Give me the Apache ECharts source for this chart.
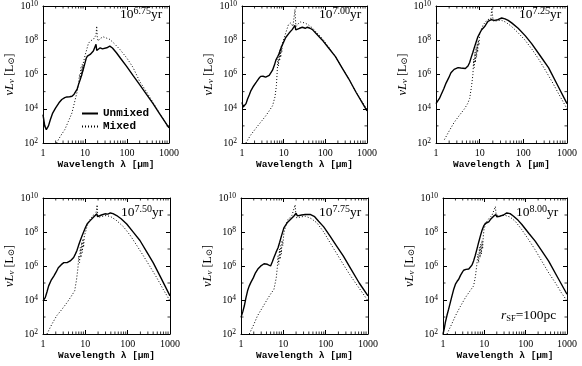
<!DOCTYPE html>
<html>
<head>
<meta charset="utf-8">
<script src="https://cdn.jsdelivr.net/npm/echarts@6/dist/echarts.min.js"></script>
<style>
  html, body { margin: 0; padding: 0; background: #fff; }
  #main { width: 582px; height: 366px; }
</style>
</head>
<body>
<div id="main"></div>
<script>
// ages of the six panels (log yr)
var ages = ['6.75', '7.00', '7.25', '7.50', '7.75', '8.00'];

// wavelength (um) and log10(nu L_nu / Lsun)
var unmixed675Lambda = [1, 1.1, 1.2, 1.35, 1.5, 1.7, 2.0, 2.4, 2.8, 3.3, 3.7, 4.3, 4.9, 5.5, 6.0, 6.5, 7.0, 7.7, 8.4, 9.2, 10, 10.7, 11.4, 12.2, 13.3, 14.5, 15.8, 17, 18.3, 19, 19.7, 21, 23, 26, 29, 33, 36, 39, 45, 56, 70, 97, 140, 200, 300, 417, 600, 1000];
var unmixed675LogL = [3.66, 3.0, 2.78, 3.0, 3.37, 3.75, 4.05, 4.35, 4.54, 4.65, 4.69, 4.7, 4.73, 4.85, 4.93, 5.15, 5.41, 5.7, 6.0, 6.35, 6.68, 6.95, 7.07, 6.98, 7.17, 7.25, 7.37, 7.3, 7.76, 7.4, 7.37, 7.5, 7.56, 7.5, 7.6, 7.56, 7.62, 7.66, 7.55, 7.27, 6.95, 6.49, 5.93, 5.41, 4.8, 4.3, 3.7, 2.88];
var mixed675Lambda = [2.1, 2.6, 3.3, 4.0, 4.9, 5.6, 6.4, 7.0, 7.4, 7.7, 8.0, 8.3, 8.6, 8.9, 9.2, 9.6, 10, 11, 12, 13.2, 14.5, 15.8, 17, 18.3, 19, 19.6, 20.5, 23, 27, 33, 39, 50, 68, 100, 140, 200, 290, 420, 600, 1000];
var mixed675LogL = [2.0, 2.4, 2.78, 3.25, 3.76, 4.35, 4.93, 5.4, 6.0, 5.7, 6.4, 5.9, 6.6, 6.2, 6.75, 6.9, 7.1, 7.46, 7.8, 7.95, 8.02, 8.05, 8.02, 8.3, 8.83, 8.2, 7.95, 8.1, 8.2, 8.12, 8.05, 7.8, 7.46, 6.95, 6.4, 5.6, 5.0, 4.35, 3.72, 2.88];

var unmixed700Lambda = [1, 1.07, 1.14, 1.25, 1.36, 1.5, 1.64, 1.9, 2.2, 2.5, 2.8, 3.2, 3.7, 4.5, 5.4, 6.0, 6.5, 7.2, 7.8, 8.5, 9.3, 10.2, 11.2, 12.3, 13.5, 14.7, 16, 17.5, 18.7, 19.5, 21, 24, 28, 33, 37, 43, 49, 60, 84, 120, 175, 250, 364, 550, 1000];
var unmixed700LogL = [4.37, 4.1, 4.07, 4.3, 4.57, 4.82, 5.06, 5.33, 5.55, 5.75, 5.89, 5.9, 5.85, 5.95, 6.25, 6.55, 6.84, 7.05, 7.23, 7.5, 7.73, 7.95, 8.16, 8.1, 8.42, 8.5, 8.62, 8.55, 8.87, 8.6, 8.56, 8.7, 8.76, 8.7, 8.76, 8.7, 8.62, 8.4, 8.02, 7.55, 7.04, 6.4, 5.75, 4.95, 3.87];
var mixed700Lambda = [1.24, 1.6, 2.2, 3.0, 3.7, 4.5, 5.4, 6.2, 6.7, 7.0, 7.3, 7.5, 7.8, 8.0, 8.3, 8.5, 8.8, 9.0, 9.3, 10, 11.2, 12.2, 13, 14.7, 16.7, 18, 18.7, 19.4, 20, 22, 25.6, 33, 40, 49, 60, 84, 120, 175, 250, 364, 550, 1000];
var mixed700LogL = [2.0, 2.45, 2.89, 3.3, 3.58, 3.88, 4.17, 4.7, 5.36, 6.2, 6.9, 6.5, 7.3, 6.8, 7.5, 7.0, 7.7, 7.3, 7.8, 7.9, 8.42, 8.7, 8.91, 9.01, 8.81, 8.9, 9.8, 9.0, 8.81, 8.95, 9.07, 9.0, 8.88, 8.72, 8.48, 8.12, 7.6, 7.04, 6.4, 5.75, 4.95, 3.97];

var unmixed725Lambda = [1, 1.09, 1.2, 1.3, 1.5, 1.7, 1.95, 2.2, 2.6, 3.2, 3.7, 4.1, 4.7, 5.4, 5.9, 6.4, 7.0, 7.6, 8.3, 9.1, 10, 11, 12, 13, 14.2, 15.5, 17, 18.5, 20, 22, 26, 32, 38, 45, 55, 76, 110, 155, 250, 377, 600, 1000];
var unmixed725LogL = [4.3, 4.4, 4.6, 4.8, 5.15, 5.5, 5.8, 6.1, 6.3, 6.4, 6.38, 6.3, 6.35, 6.5, 6.7, 7.0, 7.3, 7.6, 7.9, 8.2, 8.4, 8.6, 8.5, 8.8, 8.95, 9.1, 9.05, 9.2, 9.1, 9.16, 9.2, 9.3, 9.25, 9.16, 9.0, 8.7, 8.27, 7.8, 7.05, 6.4, 5.4, 4.3];
var mixed725Lambda = [1.56, 2.0, 2.6, 3.4, 4.5, 5.3, 5.9, 6.5, 7.0, 7.3, 7.5, 7.8, 8.0, 8.3, 8.5, 8.8, 9.0, 9.3, 9.6, 10, 11, 12, 13.5, 15, 16.5, 18, 19, 20, 21, 22, 26, 32, 40, 54, 75, 110, 160, 224, 320, 450, 650, 1000];
var mixed725LogL = [2.2, 2.7, 3.2, 3.6, 4.0, 4.3, 4.6, 5.3, 6.0, 6.9, 6.4, 7.3, 6.7, 7.6, 7.0, 7.8, 7.3, 8.0, 7.7, 8.4, 8.65, 8.9, 9.05, 9.2, 9.1, 9.25, 9.9, 9.3, 9.1, 9.1, 9.15, 9.16, 9.05, 8.8, 8.45, 8.0, 7.45, 6.9, 6.25, 5.6, 4.85, 4.0];

var unmixed750Lambda = [1, 1.07, 1.13, 1.25, 1.36, 1.55, 1.8, 2.05, 2.3, 2.7, 3.1, 3.7, 4.4, 5.3, 5.8, 6.3, 6.9, 7.6, 8.3, 9.1, 10, 11, 12, 13, 14, 15.5, 17, 18.7, 19.5, 21, 24, 29, 34, 39, 45, 55, 70, 95, 140, 195, 280, 400, 620, 1000];
var unmixed750LogL = [3.95, 4.0, 4.14, 4.5, 4.83, 5.15, 5.41, 5.65, 5.9, 6.08, 6.2, 6.2, 6.3, 6.5, 6.7, 6.9, 7.2, 7.5, 7.75, 8.0, 8.25, 8.47, 8.4, 8.67, 8.6, 8.87, 8.8, 9.07, 8.9, 8.97, 9.0, 9.07, 9.05, 9.12, 9.08, 8.97, 8.78, 8.47, 7.95, 7.5, 6.84, 6.2, 5.27, 4.24];
var mixed750Lambda = [1.24, 1.6, 2.1, 2.8, 3.7, 4.6, 5.6, 6.2, 6.7, 7.0, 7.3, 7.6, 7.9, 8.2, 8.5, 8.8, 9.1, 9.5, 10, 11, 12, 13.5, 15.5, 17.5, 19, 19.6, 21, 25, 31, 40, 55, 80, 115, 160, 235, 340, 490, 700, 1000];
var mixed750LogL = [2.0, 2.55, 3.07, 3.45, 3.85, 4.2, 4.54, 5.2, 5.9, 6.6, 6.2, 7.1, 6.5, 7.4, 6.8, 7.6, 7.1, 7.8, 7.95, 8.35, 8.63, 8.8, 9.0, 8.95, 9.6, 9.0, 8.87, 8.92, 8.97, 8.9, 8.67, 8.3, 7.8, 7.25, 6.6, 5.95, 5.3, 4.6, 3.95];

var unmixed775Lambda = [1, 1.1, 1.2, 1.3, 1.43, 1.55, 1.7, 1.95, 2.2, 2.5, 2.9, 3.2, 3.5, 3.9, 4.2, 4.6, 5.0, 5.5, 6.0, 6.7, 7.5, 8.2, 9, 10.3, 11.2, 12.3, 13.5, 14.7, 16, 17.6, 19, 20, 21.5, 23, 27, 33, 43, 55, 68, 90, 127, 180, 260, 400, 620, 1000];
var unmixed775LogL = [2.98, 3.3, 3.66, 4.1, 4.54, 4.8, 5.02, 5.3, 5.6, 5.82, 5.99, 6.1, 6.13, 6.15, 6.1, 6.05, 6.0, 6.25, 6.5, 6.8, 7.07, 7.4, 7.76, 8.24, 8.3, 8.54, 8.5, 8.73, 8.7, 8.93, 8.85, 9.1, 8.95, 8.93, 9.0, 9.03, 9.03, 8.9, 8.63, 8.3, 7.76, 7.19, 6.59, 5.8, 5.0, 4.24];
var mixed775Lambda = [1.57, 2.0, 2.45, 3.2, 4.2, 5.0, 6.0, 6.8, 7.2, 7.5, 7.8, 8.1, 8.4, 8.7, 9.0, 9.3, 9.7, 10.3, 11.5, 12.8, 14.5, 16, 17.5, 19, 19.8, 20.8, 25, 33, 45, 62, 90, 127, 180, 260, 370, 530, 750, 1000];
var mixed775LogL = [2.0, 2.55, 3.07, 3.55, 4.05, 4.35, 4.63, 5.3, 5.9, 6.6, 6.1, 7.0, 6.4, 7.2, 6.7, 7.5, 7.2, 7.95, 8.4, 8.73, 8.85, 8.98, 8.9, 9.6, 9.0, 8.83, 8.88, 8.93, 8.8, 8.54, 8.0, 7.37, 6.75, 6.1, 5.5, 4.93, 4.4, 3.95];

var unmixed800Lambda = [1, 1.07, 1.14, 1.25, 1.37, 1.5, 1.65, 1.8, 2.0, 2.2, 2.4, 2.65, 2.9, 3.15, 3.35, 3.6, 3.8, 4.2, 4.6, 5.0, 5.5, 6.0, 6.6, 7.3, 8, 8.8, 9.6, 10.5, 11.6, 12.8, 14, 15.4, 16.8, 18, 19, 20, 22, 24, 29, 35, 42, 51, 65, 81, 120, 170, 250, 360, 600, 1000];
var unmixed800LogL = [2.0, 2.3, 2.68, 3.1, 3.46, 3.85, 4.24, 4.6, 4.93, 5.1, 5.22, 5.45, 5.61, 5.75, 5.85, 5.8, 5.76, 5.82, 5.9, 6.05, 6.3, 6.6, 6.98, 7.4, 7.76, 8.1, 8.34, 8.5, 8.54, 8.6, 8.73, 8.8, 8.93, 8.88, 9.02, 8.9, 8.97, 8.93, 9.0, 9.12, 9.08, 8.93, 8.7, 8.44, 7.91, 7.46, 6.86, 6.29, 5.31, 4.34];
var mixed800Lambda = [1.25, 1.6, 2.0, 2.6, 3.5, 4.4, 5.5, 6.1, 6.6, 7.0, 7.3, 7.6, 7.9, 8.2, 8.5, 8.8, 9.1, 9.4, 9.8, 10.5, 11.6, 13, 15.3, 17, 18.5, 19.3, 20, 24, 32, 42, 56, 80, 117, 170, 245, 360, 520, 720, 1000];
var mixed800LogL = [2.0, 2.55, 3.07, 3.6, 4.15, 4.5, 4.83, 5.4, 6.1, 6.7, 6.2, 7.1, 6.5, 7.3, 6.7, 7.5, 7.0, 7.7, 8.15, 8.4, 8.63, 8.8, 8.98, 8.9, 9.5, 9.0, 8.93, 8.95, 8.98, 8.88, 8.63, 8.15, 7.56, 6.95, 6.29, 5.6, 5.02, 4.45, 3.95];

// small ticks between the decades
var xMinorTicks = [2, 3, 4, 5, 6, 7, 8, 9, 20, 30, 40, 50, 60, 70, 80, 90, 200, 300, 400, 500, 600, 700, 800, 900];
var yMinorTicks = [1e3, 1e5, 1e7, 1e9];

var panels = [
  { age: ages[0], ul: unmixed675Lambda, uv: unmixed675LogL, ml: mixed675Lambda, mv: mixed675LogL },
  { age: ages[1], ul: unmixed700Lambda, uv: unmixed700LogL, ml: mixed700Lambda, mv: mixed700LogL },
  { age: ages[2], ul: unmixed725Lambda, uv: unmixed725LogL, ml: mixed725Lambda, mv: mixed725LogL },
  { age: ages[3], ul: unmixed750Lambda, uv: unmixed750LogL, ml: mixed750Lambda, mv: mixed750LogL },
  { age: ages[4], ul: unmixed775Lambda, uv: unmixed775LogL, ml: mixed775Lambda, mv: mixed775LogL },
  { age: ages[5], ul: unmixed800Lambda, uv: unmixed800LogL, ml: mixed800Lambda, mv: mixed800LogL }
];

var boxes = [
  { left: 43, top: 6, width: 126, height: 137 },
  { left: 242, top: 6, width: 125, height: 137 },
  { left: 436, top: 6, width: 131, height: 137 },
  { left: 43, top: 198, width: 127, height: 136 },
  { left: 241, top: 198, width: 127, height: 136 },
  { left: 443, top: 198, width: 124, height: 136 }
];
var ageLabelPos = [[120, 6], [319, 6], [519, 6], [121, 204], [319, 204], [516, 204]];

var serif = 'Liberation Serif';
var mono = 'Liberation Mono';

function pairs(lambda, logL) {
  return lambda.map(function (x, k) { return [x, Math.pow(10, logL[k])]; });
}

function yLabel(v) {
  var e = Math.round(Math.log10(v));
  return '10{sup|' + e + '}';
}

var grid = [], xAxis = [], yAxis = [], series = [], title = [];

panels.forEach(function (p, i) {
  var b = boxes[i];
  grid.push({ left: b.left, top: b.top, width: b.width, height: b.height, containLabel: false });

  var xBase = {
    type: 'log', logBase: 10, min: 1, max: 1000, gridIndex: i,
    axisLine: { lineStyle: { color: '#000', width: 1 } },
    axisTick: { inside: true, length: 4, lineStyle: { color: '#000' } },
    splitLine: { show: false }
  };
  xAxis.push(Object.assign({}, xBase, {
    position: 'bottom',
    axisLabel: {
      color: '#000', fontFamily: serif, fontSize: 10, margin: 5,
      formatter: function (v) { return String(Math.round(v)); }
    },
    name: 'Wavelength λ [μm]',
    nameLocation: 'middle',
    nameGap: 17,
    nameTextStyle: { color: '#000', fontFamily: mono, fontSize: 9.5, fontWeight: 'bold' }
  }));
  xAxis.push(Object.assign({}, xBase, { position: 'top', axisLabel: { show: false } }));

  var yBase = {
    type: 'log', logBase: 10, min: 100, max: 1e10, interval: 2, gridIndex: i,
    axisLine: { lineStyle: { color: '#000', width: 1 } },
    axisTick: { inside: true, length: 4, lineStyle: { color: '#000' } },
    splitLine: { show: false }
  };
  yAxis.push(Object.assign({}, yBase, {
    position: 'left',
    axisLabel: {
      color: '#000', fontFamily: serif, fontSize: 10, lineHeight: 12, margin: 5,
      formatter: yLabel,
      rich: { sup: { fontFamily: serif, fontSize: 7.5, lineHeight: 8, verticalAlign: 'top', color: '#000' } }
    },
    name: '{it|νL}{sub|ν}{n| [L}{sun|⊙}{n|]}',
    nameLocation: 'middle',
    nameRotate: 90,
    nameGap: 26,
    nameTextStyle: {
      color: '#000', fontFamily: serif, fontSize: 12,
      rich: {
        it: { fontFamily: serif, fontStyle: 'italic', fontSize: 12.5, lineHeight: 14, color: '#000' },
        sub: { fontFamily: serif, fontStyle: 'italic', fontSize: 9, lineHeight: 9, verticalAlign: 'bottom', color: '#000' },
        n: { fontFamily: serif, fontSize: 12, lineHeight: 14, color: '#000' },
        sun: { fontFamily: 'DejaVu Serif', fontSize: 8.5, lineHeight: 9, verticalAlign: 'bottom', color: '#000' }
      }
    }
  }));
  yAxis.push(Object.assign({}, yBase, { position: 'right', axisLabel: { show: false } }));

  series.push({
    name: 'Unmixed', type: 'line', xAxisIndex: 2 * i, yAxisIndex: 2 * i,
    data: pairs(p.ul, p.uv), symbol: 'none', smooth: false, silent: true,
    lineStyle: { color: '#000', width: 1.4 }, itemStyle: { color: '#000' }, z: 3
  });
  series.push({
    name: 'Mixed', type: 'line', xAxisIndex: 2 * i, yAxisIndex: 2 * i,
    data: pairs(p.ml, p.mv), symbol: 'none', smooth: false, silent: true,
    lineStyle: { color: '#000', width: 1, type: [1, 2] }, itemStyle: { color: '#000' }, z: 2
  });

  // minor ticks on all four sides
  var tickData = [];
  xMinorTicks.forEach(function (x) {
    tickData.push({ value: [x, 100], symbolSize: [1, 2.5], symbolOffset: [0, -1.25] });
    tickData.push({ value: [x, 1e10], symbolSize: [1, 2.5], symbolOffset: [0, 1.25] });
  });
  yMinorTicks.forEach(function (y) {
    tickData.push({ value: [1, y], symbolSize: [2.5, 1], symbolOffset: [1.25, 0] });
    tickData.push({ value: [1000, y], symbolSize: [2.5, 1], symbolOffset: [-1.25, 0] });
  });
  series.push({
    name: 'ticks', type: 'scatter', xAxisIndex: 2 * i, yAxisIndex: 2 * i,
    symbol: 'rect', data: tickData, clip: false, silent: true,
    itemStyle: { color: '#000' }, z: 4
  });

  title.push({
    text: '10{sup|' + p.age + '}yr',
    left: ageLabelPos[i][0], top: ageLabelPos[i][1], padding: 0,
    textStyle: {
      color: '#000', fontFamily: serif, fontSize: 13.5, fontWeight: 'normal', lineHeight: 17,
      rich: { sup: { fontFamily: serif, fontSize: 10, lineHeight: 10, verticalAlign: 'top', color: '#000' } }
    }
  });
});

title.push({
  text: '{it|r}{sub|SF}=100pc',
  left: 501, top: 307, padding: 0,
  textStyle: {
    color: '#000', fontFamily: serif, fontSize: 13.5, fontWeight: 'normal', lineHeight: 16,
    rich: {
      it: { fontFamily: serif, fontStyle: 'italic', fontSize: 13.5, lineHeight: 16, color: '#000' },
      sub: { fontFamily: serif, fontSize: 8.5, lineHeight: 9, verticalAlign: 'bottom', color: '#000' }
    }
  }
});

var myChart = echarts.init(document.getElementById('main'), null, { renderer: 'canvas' });
var option = {
  backgroundColor: '#fff',
  animation: false,
  title: title,
  legend: {
    data: ['Unmixed', 'Mixed'],
    orient: 'vertical',
    left: 81, top: 108,
    padding: 0,
    itemWidth: 16, itemHeight: 11, itemGap: 2,
    selectedMode: false,
    itemStyle: { opacity: 0 },
    textStyle: { color: '#000', fontFamily: mono, fontSize: 11, fontWeight: 'bold' }
  },
  grid: grid,
  xAxis: xAxis,
  yAxis: yAxis,
  series: series
};
myChart.setOption(option);
</script>
</body>
</html>
